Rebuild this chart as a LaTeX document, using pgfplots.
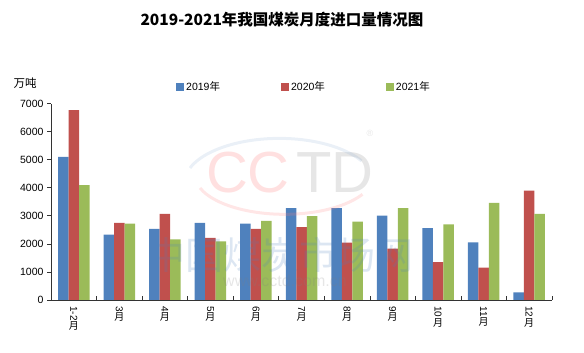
\documentclass[border=0pt]{standalone}
\usepackage{pgfplots}
\pgfplotsset{compat=1.18}
\usepackage{fontspec}
\setmainfont{Liberation Sans}
\newfontfamily\cjk{Noto Sans CJK SC}
\definecolor{cblue}{HTML}{4F81BD}
\definecolor{cred}{HTML}{C0504D}
\definecolor{cgreen}{HTML}{9BBB59}
\pgfplotstableread{
x y2019 y2020 y2021
0 5100 6760 4090
1 2330 2750 2720
2 2530 3070 2160
3 2750 2210 2090
4 2720 2530 2820
5 3270 2600 2990
6 3270 2040 2790
7 3010 1830 3270
8 2560 1350 2690
9 2050 1150 3460
10 270 3900 3070
}\data
\begin{document}
\begin{tikzpicture}
\useasboundingbox (0,0) rectangle (584pt,353pt);
\node[font=\cjk\bfseries\fontsize{15.5}{17}\selectfont] at (282pt,333pt) {2019-2021年我国煤炭月度进口量情况图};
\node[font=\cjk\fontsize{11.5}{13}\selectfont] at (25pt,270pt) {万吨};
\begin{axis}[
  at={(51pt,53pt)}, anchor=south west,
  scale only axis, width=501pt, height=196.5pt,
  ybar=0pt, bar width=10.5pt,
  xmin=-0.5, xmax=10.5, ymin=0, ymax=7000,
  axis x line*=bottom, axis y line*=left,
  axis line style={black!80, line width=0.6pt},
  ytick={0,1000,...,7000},
  yticklabel style={font=\fontsize{10.5}{12}\selectfont},
  /pgf/number format/assume math mode=true,
  /pgf/number format/set thousands separator={},
  xtick={0.5,1.5,...,10.5},
  xticklabels={},
  x tick style={black!80, line width=0.6pt},
  xtick align=inside,
  y tick style={black!80, line width=0.6pt},
  ytick align=outside, major tick length=4pt,
  extra x ticks={0,...,10},
  extra x tick labels={{\rotatebox{-90}{1-2}\\{\cjk 月}},{\rotatebox{-90}{3}\\{\cjk 月}},{\rotatebox{-90}{4}\\{\cjk 月}},{\rotatebox{-90}{5}\\{\cjk 月}},{\rotatebox{-90}{6}\\{\cjk 月}},{\rotatebox{-90}{7}\\{\cjk 月}},{\rotatebox{-90}{8}\\{\cjk 月}},{\rotatebox{-90}{9}\\{\cjk 月}},{\rotatebox{-90}{10}\\{\cjk 月}},{\rotatebox{-90}{11}\\{\cjk 月}},{\rotatebox{-90}{12}\\{\cjk 月}}},
  extra x tick style={major tick length=0pt, xticklabel style={font=\fontsize{10}{10}\selectfont, align=center, anchor=north, inner sep=1pt, yshift=-5pt}},
  legend columns=3,
  legend style={draw=none, fill=none, at={(0.505,1.084)}, anchor=center,
    font=\fontsize{10.5}{12}\selectfont, /tikz/every even column/.append style={column sep=59pt}},
  legend image code/.code={\fill (0pt,-4pt) rectangle (8pt,4pt);},
]
\addplot[fill=cblue, draw=none] table[x=x,y=y2019] {\data};
\addplot[fill=cred, draw=none] table[x=x,y=y2020] {\data};
\addplot[fill=cgreen, draw=none] table[x=x,y=y2021] {\data};
\legend{2019{\cjk 年},2020{\cjk 年},2021{\cjk 年}}
\end{axis}
\begin{scope}[opacity=0.2]
\node[font=\fontsize{58}{60}\selectfont, text=red!60] at (248pt,180pt) {CC};
\node[font=\fontsize{58}{60}\selectfont, text=gray] at (335pt,180pt) {TD};
\node[font=\fontsize{9}{10}\selectfont, text=gray] at (370pt,220pt) {\textregistered};
\draw[cblue!60, line width=3pt] (190pt,185pt) arc[start angle=160, end angle=30, x radius=95pt, y radius=45pt];
\draw[red!50, line width=3pt] (200pt,165pt) arc[start angle=200, end angle=330, x radius=90pt, y radius=40pt];
\end{scope}
\begin{scope}[opacity=0.2]
\node[font=\cjk\fontsize{38}{40}\selectfont, text=cblue] at (280pt,98pt) {中国煤炭市场网};
\node[font=\fontsize{16}{18}\selectfont, text=gray] at (285pt,72pt) {www.cctd.com.cn};
\end{scope}
\end{tikzpicture}
\end{document}
